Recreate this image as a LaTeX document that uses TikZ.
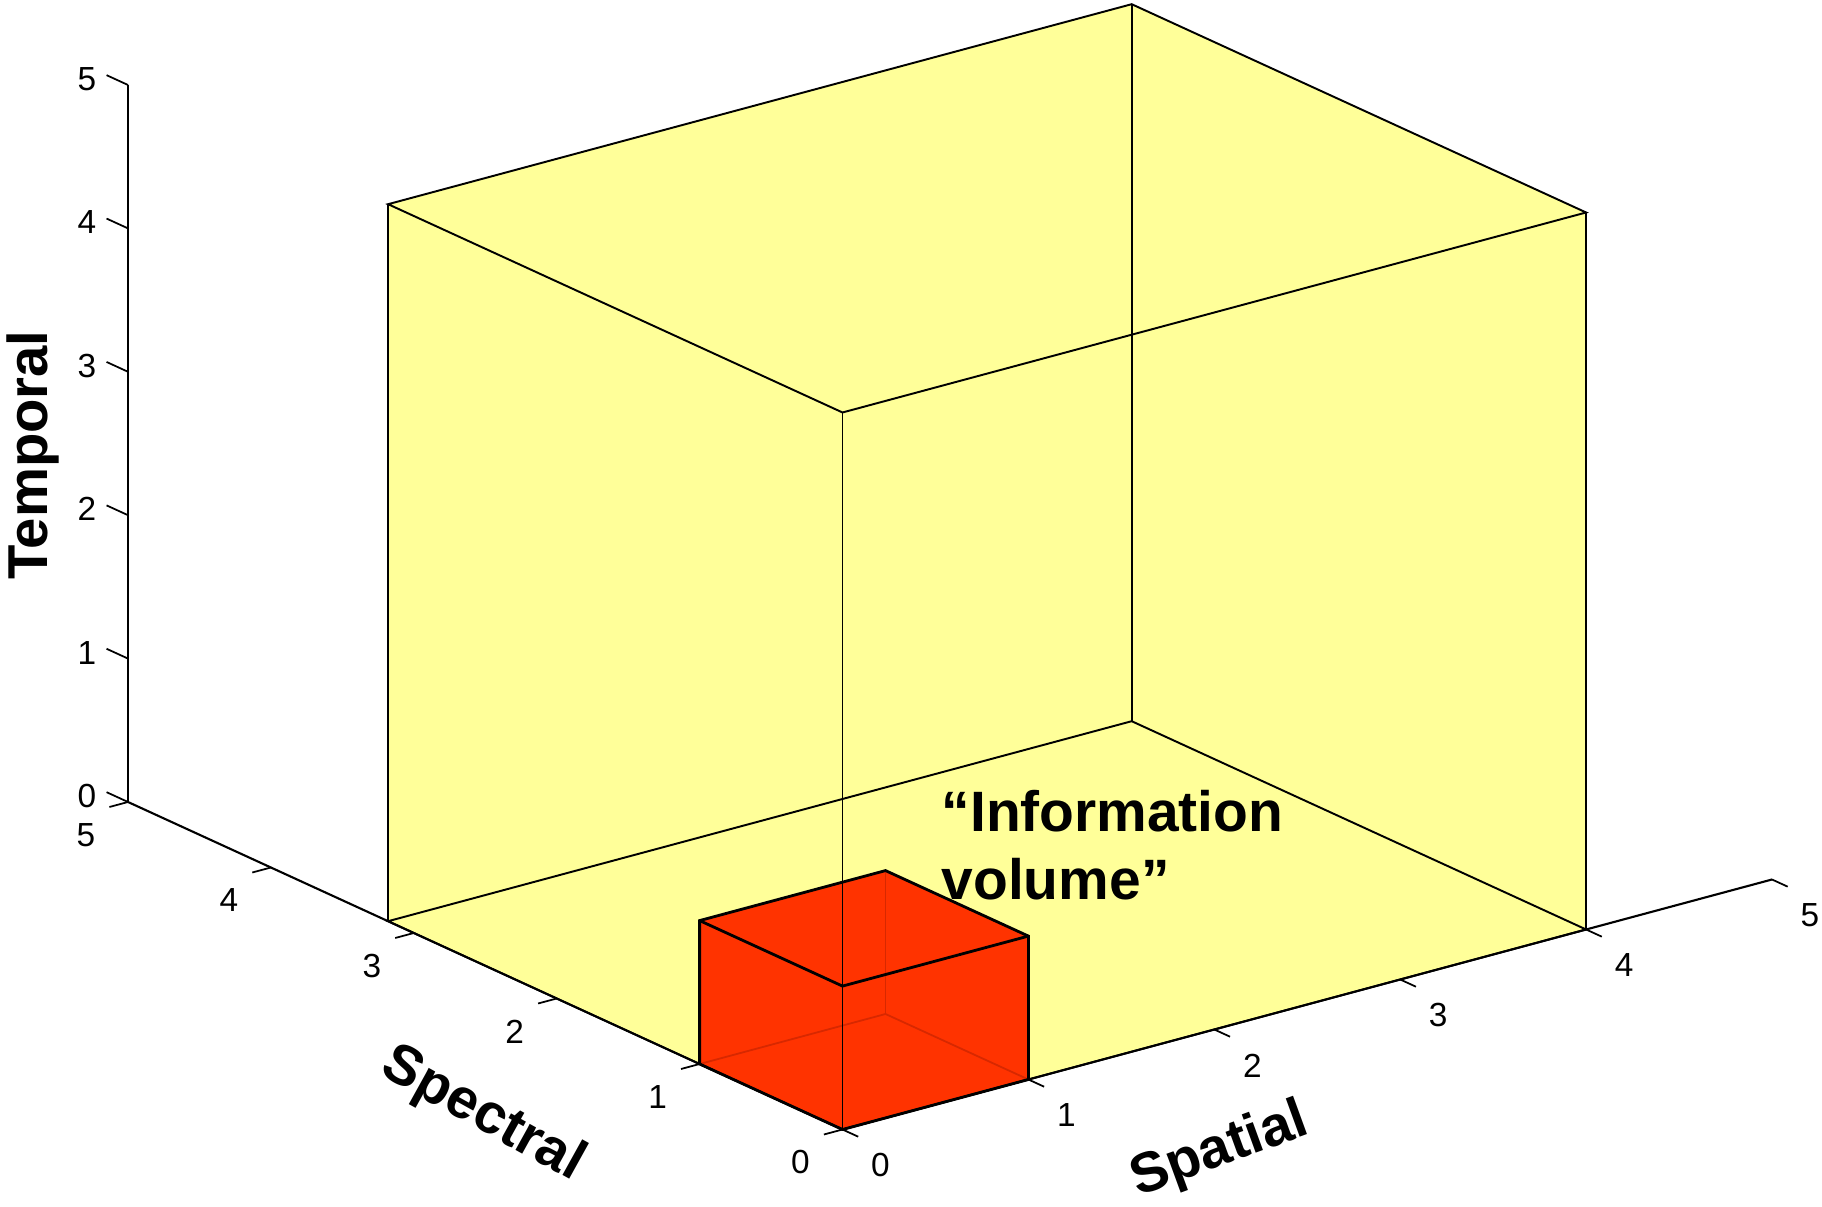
\documentclass[tikz,border=0pt]{standalone}
\usepackage{fontspec}
\setmainfont{Liberation Sans}
\usetikzlibrary{calc}
\definecolor{boxyellow}{RGB}{255,255,153}
\definecolor{cubered}{RGB}{255,51,0}
\definecolor{hiddenred}{RGB}{215,40,0}
\tikzset{
    axis/.style = {draw, line width=0.6pt},
    tick/.style = {draw, line width=0.5pt},
    ticklabel/.style = {font=\fontsize{9.5}{11}\selectfont, inner sep=0pt},
    axislabel/.style = {font=\fontsize{16}{19}\selectfont\bfseries, inner sep=0pt},
    boxedge/.style = {draw, line width=0.55pt},
    cubeedge/.style = {draw, line width=0.8pt},
    hiddenedge/.style = {draw=hiddenred, line width=0.5pt}
}

\begin{document}
\begin{tikzpicture}
\useasboundingbox (0,0) rectangle (18.22,12.07);
\begin{scope}[shift={(8.425cm,0.775cm)}, x={(1.859cm,0.5cm)}, y={(-1.429cm,0.655cm)}, z={(0cm,1.434cm)}]
    % corners of the yellow box
    \coordinate (b1) at (0,0,0);
    \coordinate (b2) at (4,0,0);
    \coordinate (b3) at (4,3.18,0);
    \coordinate (b4) at (0,3.18,0);
    \coordinate (t1) at (0,0,5);
    \coordinate (t2) at (4,0,5);
    \coordinate (t3) at (4,3.18,5);
    \coordinate (t4) at (0,3.18,5);
    \fill[boxyellow] (b1) -- (b2) -- (t2) -- (t3) -- (t4) -- (b4) -- cycle;
    \draw[boxedge] (b1) -- (b2) -- (b3) -- (b4) -- cycle;
    \draw[boxedge] (t1) -- (t2) -- (t3) -- (t4) -- cycle;
    \foreach \a in {2,3,4}{
        \draw[boxedge] (b\a) -- (t\a);
    }
    % the red cube
    \coordinate (c1) at (0,0,0);
    \coordinate (c2) at (1,0,0);
    \coordinate (c3) at (1,1,0);
    \coordinate (c4) at (0,1,0);
    \coordinate (d1) at (0,0,1);
    \coordinate (d2) at (1,0,1);
    \coordinate (d3) at (1,1,1);
    \coordinate (d4) at (0,1,1);
    \fill[cubered] (c1) -- (c2) -- (d2) -- (d3) -- (d4) -- (c4) -- cycle;
    \foreach \a in {2,4}{
        \draw[hiddenedge] (c3) -- (c\a);
    }
    \draw[hiddenedge] (c3) -- (d3);
    \draw[cubeedge] (c4) -- (c1) -- (c2) -- (d2) -- (d3) -- (d4) -- cycle;
    \draw[cubeedge] (d4) -- (d1) -- (d2);
    \draw[boxedge] (b1) -- (t1);
    % axes
    \coordinate (zbase) at (0,5,0);
    \coordinate (zend) at (0,5,5);
    \coordinate (yend) at (0,5,0);
    \coordinate (xend) at (5,0,0);
    \draw[axis] (b1) -- (yend);
    \draw[axis] (b1) -- (xend);
    \draw[axis, line width=0.85pt] (zbase) -- (zend);
    \foreach \k in {0,...,5}{
        \draw[tick] (0,\k,0) -- ++(-0.1,0,0);
        \path (0,\k,0) ++(-0.42cm,-0.33cm) node[ticklabel] (speclab\k) {\k};
        \draw[tick] (\k,0,0) -- ++(0,-0.11,0);
        \path (\k,0,0) ++(0.38cm,-0.36cm) node[ticklabel] (spatlab\k) {\k};
        \draw[tick] (0,5,\k) -- ++(0,0.15,0);
        \path (0,5,\k) ++(-0.41cm,0.06cm) node[ticklabel] (templab\k) {\k};
    }
\end{scope}
\node[axislabel, rotate=90] (temporal) at (0.33,7.52) {Temporal};
\node[axislabel, rotate=-29] (spectral) at (4.83,0.92) {Spectral};
\node[axislabel, rotate=20] (spatial) at (12.20,0.56) {Spatial};
\node[font=\fontsize{16.2}{19.1}\selectfont\bfseries, align=left, inner sep=0pt, anchor=north west] (info) at (9.41,4.17) {“Information\\volume”};
\end{tikzpicture}
\end{document}
